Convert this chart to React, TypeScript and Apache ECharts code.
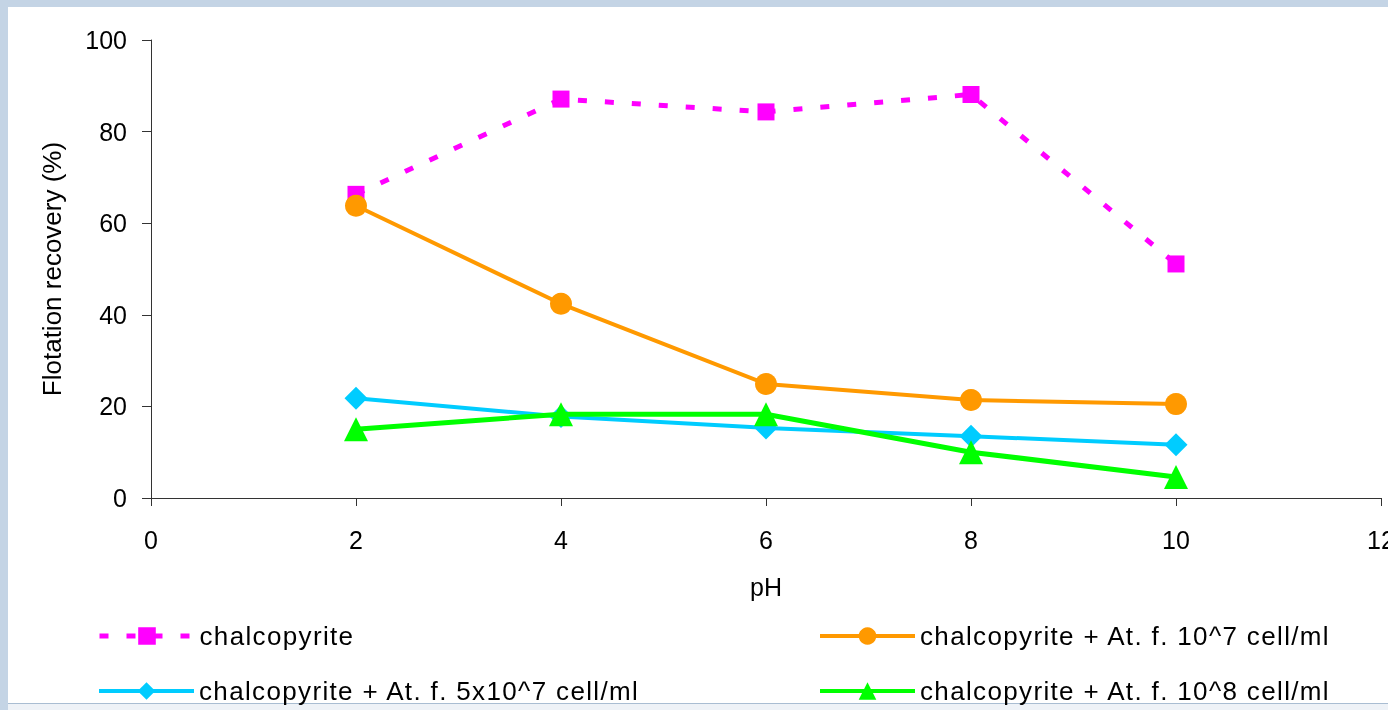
import React, { useEffect, useRef } from "react";
import * as echarts from "echarts";

const phValues = [2, 4, 6, 8, 10];
const chalcopyrite = [66.3, 87.1, 84.3, 88.1, 51.1];
const atf1e7 = [63.8, 42.4, 24.9, 21.4, 20.5];
const atf5e7 = [21.8, 17.8, 15.3, 13.5, 11.6];
const atf1e8 = [15.0, 18.3, 18.3, 10.0, 4.6];

const seriesNames = [
  "chalcopyrite",
  "chalcopyrite + At. f. 10^7 cell/ml",
  "chalcopyrite + At. f. 5x10^7 cell/ml",
  "chalcopyrite + At. f. 10^8 cell/ml",
];

const FONT = "'Liberation Sans', Arial, sans-serif";
const LEGEND_FONT = "'Liberation Sans', Arial, Helvetica, sans-serif";

const pairs = (ys: number[]) => phValues.map((x, i) => [x, ys[i]]);

export default function App() {
  const ref = useRef<HTMLDivElement>(null);
  useEffect(() => {
    if (!ref.current) return;
    const chart = echarts.init(ref.current, undefined, { renderer: "svg", width: 1388, height: 710 });
    const legendCommon = {
      orient: "horizontal",
      itemWidth: 95,
      itemHeight: 22,
      padding: 0,
      itemGap: 0,
      selectedMode: false,
      textStyle: { fontFamily: LEGEND_FONT, fontSize: 26, color: "#000" },
    };
    chart.setOption({
      animation: false,
      backgroundColor: "transparent",
      graphic: [
        { type: "rect", z: -100, silent: true, shape: { x: 0, y: 0, width: 1388, height: 710 }, style: { fill: "#c4d4e5" } },
        { type: "rect", z: -99, silent: true, shape: { x: 8, y: 7, width: 1380, height: 696 }, style: { fill: "#ffffff" } },
        { type: "rect", z: -99, silent: true, shape: { x: 8, y: 703, width: 1380, height: 1 }, style: { fill: "#a9bdd2" } },
        { type: "rect", z: -99, silent: true, shape: { x: 8, y: 704, width: 1380, height: 6 }, style: { fill: "#eef2f7" } },
      ],
      grid: { left: 151, width: 1230, top: 40, height: 458, containLabel: false, outerBoundsMode: "none" },
      xAxis: {
        type: "value",
        min: 0,
        max: 12,
        interval: 2,
        name: "pH",
        nameLocation: "middle",
        nameGap: 76,
        nameTextStyle: { fontFamily: FONT, fontSize: 25, color: "#000" },
        axisLine: { show: true, lineStyle: { color: "#333", width: 1 } },
        axisTick: { show: true, length: 8, lineStyle: { color: "#333" } },
        axisLabel: { margin: 29, fontFamily: FONT, fontSize: 25, color: "#000", showMaxLabel: true },
        splitLine: { show: false },
      },
      yAxis: {
        type: "value",
        min: 0,
        max: 100,
        interval: 20,
        name: "Flotation recovery (%)",
        nameLocation: "middle",
        nameGap: 86,
        nameTextStyle: { fontFamily: FONT, fontSize: 26, color: "#000" },
        axisLine: { show: true, lineStyle: { color: "#333", width: 1 } },
        axisTick: { show: true, length: 9, lineStyle: { color: "#333" } },
        axisLabel: { margin: 24, fontFamily: FONT, fontSize: 25, color: "#000" },
        splitLine: { show: false },
      },
      legend: [
        { ...legendCommon, left: 97, top: 623, data: [seriesNames[0]], lineStyle: { width: 5, type: [9, 18] } },
        { ...legendCommon, left: 818, top: 623, data: [seriesNames[1]], lineStyle: { width: 4 } },
        { ...legendCommon, left: 97, top: 678, data: [seriesNames[2]], lineStyle: { width: 4 } },
        { ...legendCommon, left: 818, top: 678, data: [seriesNames[3]], lineStyle: { width: 4 } },
      ],
      series: [
        {
          name: seriesNames[0],
          type: "line",
          data: pairs(chalcopyrite),
          symbol: "rect",
          symbolSize: 17,
          itemStyle: { color: "#ff00ff" },
          lineStyle: { color: "#ff00ff", width: 5, type: [9, 18] },
          z: 3,
        },
        {
          name: seriesNames[1],
          type: "line",
          data: pairs(atf1e7),
          symbol: "circle",
          symbolSize: 22,
          itemStyle: { color: "#ff9900" },
          lineStyle: { color: "#ff9900", width: 4 },
          z: 4,
        },
        {
          name: seriesNames[2],
          type: "line",
          data: pairs(atf5e7),
          symbol: "diamond",
          symbolSize: 23,
          itemStyle: { color: "#00ccff" },
          lineStyle: { color: "#00ccff", width: 4 },
          z: 5,
        },
        {
          name: seriesNames[3],
          type: "line",
          data: pairs(atf1e8),
          symbol: "triangle",
          symbolSize: 24,
          itemStyle: { color: "#00ff00" },
          lineStyle: { color: "#00ff00", width: 5 },
          z: 6,
        },
      ],
    });
    return () => chart.dispose();
  }, []);
  return (
    <>
      <style>{`text[style*="Helvetica"]{letter-spacing:1.35px}`}</style>
      <div
        ref={ref}
        style={{ position: "fixed", left: 0, top: 0, width: 1388, height: 710 }}
      />
    </>
  );
}
